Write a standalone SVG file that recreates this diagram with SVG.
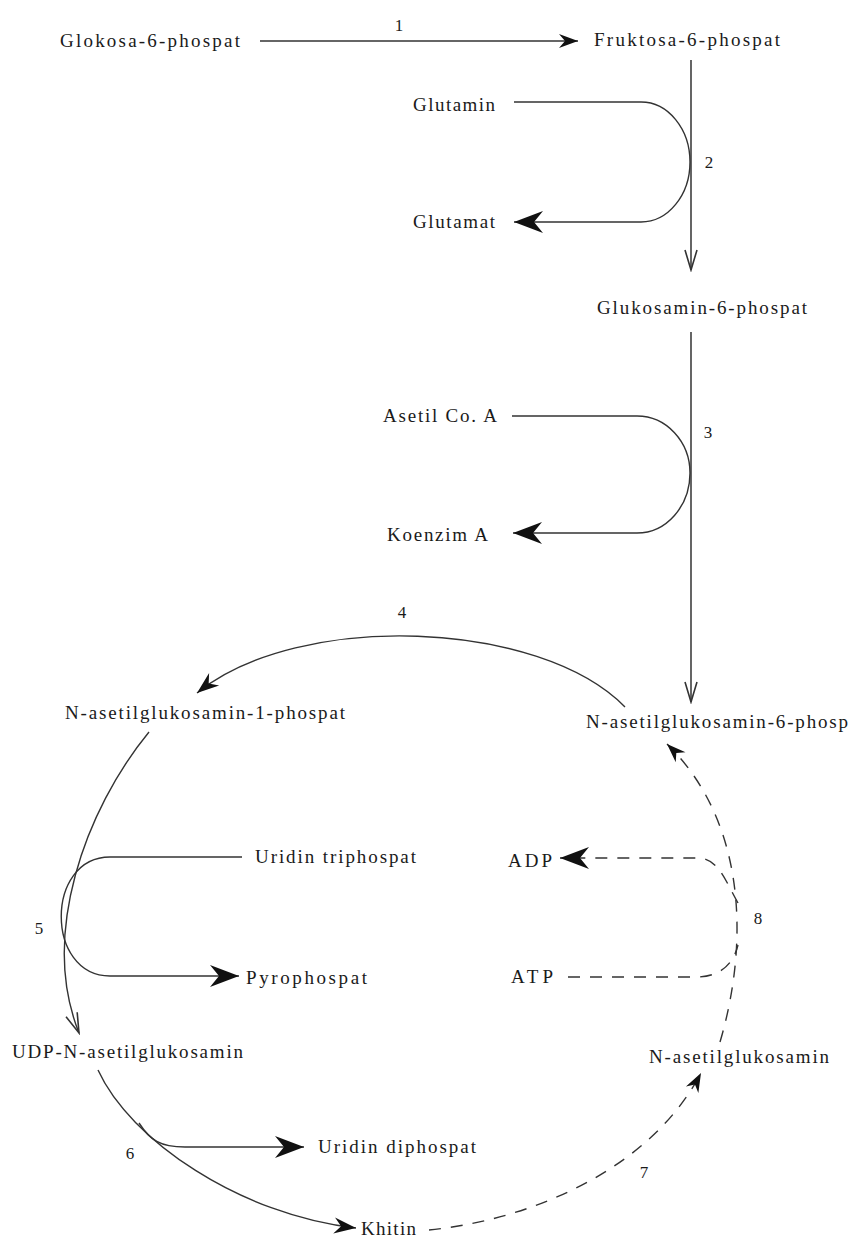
<svg xmlns="http://www.w3.org/2000/svg" width="850" height="1239" viewBox="0 0 850 1239">
<style>
text{font-family:"Liberation Serif","Times New Roman",serif;font-size:19px;fill:#1a1a1a}
.n{text-anchor:middle;font-size:17px}
.c{fill:none;stroke:#333;stroke-width:1.4}
.v{fill:none;stroke:#555;stroke-width:1.8}
.d{fill:none;stroke:#333;stroke-width:1.4;stroke-dasharray:12 10}
</style>
<defs>
<marker id="big" viewBox="-30 -12 32 24" refX="0" refY="0" markerWidth="32" markerHeight="24" markerUnits="userSpaceOnUse" orient="auto"><path d="M0,0 L-29,-11 L-20,0 L-29,11 Z" fill="#111"/></marker>
<marker id="mid" viewBox="-24 -10 26 20" refX="0" refY="0" markerWidth="26" markerHeight="20" markerUnits="userSpaceOnUse" orient="auto"><path d="M0,0 L-22,-8 L-15,0 L-22,8 Z" fill="#111"/></marker>
<marker id="sm" viewBox="-22 -9 24 18" refX="0" refY="0" markerWidth="24" markerHeight="18" markerUnits="userSpaceOnUse" orient="auto"><path d="M0,0 L-19,-7 L-13,0 L-19,7 Z" fill="#111"/></marker>
<marker id="vee" viewBox="-22 -9 24 18" refX="0" refY="0" markerWidth="24" markerHeight="18" markerUnits="userSpaceOnUse" orient="auto"><path d="M-20,-6 L0,0 L-20,6" fill="none" stroke="#333" stroke-width="1.6"/></marker>
</defs>
<g id="connectors">
<path id="e1" class="c" d="M260,41 H578" marker-end="url(#sm)"/>
<path id="e2" class="v" d="M691,60 V270" marker-end="url(#vee)"/>
<path id="e2s" class="c" d="M514,102 H641 A49,60 0 0 1 690,162 A49,60 0 0 1 641,222 H514" marker-end="url(#big)"/>
<path id="e3" class="v" d="M691,332 V702" marker-end="url(#vee)"/>
<path id="e3s" class="c" d="M512,416 H637 A53,57 0 0 1 690,473 A53,60 0 0 1 637,533 H513" marker-end="url(#big)"/>
<path id="e4" class="c" d="M625,707 C540,620 300,610 197,693" marker-end="url(#mid)"/>
<path id="e5" class="c" d="M149,732 C85,810 40,935 79,1033" marker-end="url(#vee)"/>
<path id="e5s" class="c" d="M242,857 H110 C45,857 45,976 110,976 H239" marker-end="url(#big)"/>
<path id="e6" class="c" d="M98,1070 C130,1140 240,1215 356,1228" marker-end="url(#mid)"/>
<path id="e6s" class="c" d="M139,1123 C150,1140 160,1147 185,1147 H304" marker-end="url(#big)"/>
<path id="e7" class="d" d="M429,1230 C530,1220 650,1170 701,1073" marker-end="url(#sm)"/>
<path id="e8" class="d" d="M720,1042 C750,940 745,820 667,744" marker-end="url(#sm)"/>
<path id="e8a" class="d" d="M738,903 C725,880 718,858 698,858 H560" marker-end="url(#big)"/>
<path id="e8b" class="d" d="M568,977 H696 C722,977 734,962 738,945"/>
</g>
<g id="labels">
<text class="n" x="399" y="31">1</text>
<text class="n" x="709" y="168">2</text>
<text class="n" x="708" y="438">3</text>
<text class="n" x="402" y="618">4</text>
<text class="n" x="39" y="934">5</text>
<text class="n" x="130" y="1159">6</text>
<text class="n" x="644" y="1178">7</text>
<text class="n" x="758" y="924">8</text>
</g>
<g id="glc6p"><text x="60" y="47" textLength="180" lengthAdjust="spacing">Glokosa-6-phospat</text></g>
<g id="frc6p"><text x="594" y="46" textLength="186" lengthAdjust="spacing">Fruktosa-6-phospat</text></g>
<g id="glutamin"><text x="413" y="111" textLength="82" lengthAdjust="spacing">Glutamin</text></g>
<g id="glutamat"><text x="413" y="228" textLength="82" lengthAdjust="spacing">Glutamat</text></g>
<g id="glcn6p"><text x="597" y="314" textLength="210" lengthAdjust="spacing">Glukosamin-6-phospat</text></g>
<g id="acoa"><text x="383" y="422" textLength="114" lengthAdjust="spacing">Asetil Co. A</text></g>
<g id="koa"><text x="387" y="541" textLength="101" lengthAdjust="spacing">Koenzim A</text></g>
<g id="glcnac1p"><text x="65" y="719" textLength="280" lengthAdjust="spacing">N-asetilglukosamin-1-phospat</text></g>
<g id="glcnac6p"><text x="586" y="728" textLength="262" lengthAdjust="spacing">N-asetilglukosamin-6-phosp</text></g>
<g id="utp"><text x="255" y="863" textLength="161" lengthAdjust="spacing">Uridin triphospat</text></g>
<g id="adp"><text x="508" y="867" textLength="44" lengthAdjust="spacing">ADP</text></g>
<g id="atp"><text x="511" y="983" textLength="42" lengthAdjust="spacing">ATP</text></g>
<g id="ppi"><text x="246" y="984" textLength="121" lengthAdjust="spacing">Pyrophospat</text></g>
<g id="udpglcnac"><text x="12" y="1058" textLength="231" lengthAdjust="spacing">UDP-N-asetilglukosamin</text></g>
<g id="glcnac"><text x="649" y="1063" textLength="180" lengthAdjust="spacing">N-asetilglukosamin</text></g>
<g id="udp"><text x="318" y="1153" textLength="158" lengthAdjust="spacing">Uridin diphospat</text></g>
<g id="khitin"><text x="361" y="1235" textLength="55" lengthAdjust="spacing">Khitin</text></g>
</svg>
